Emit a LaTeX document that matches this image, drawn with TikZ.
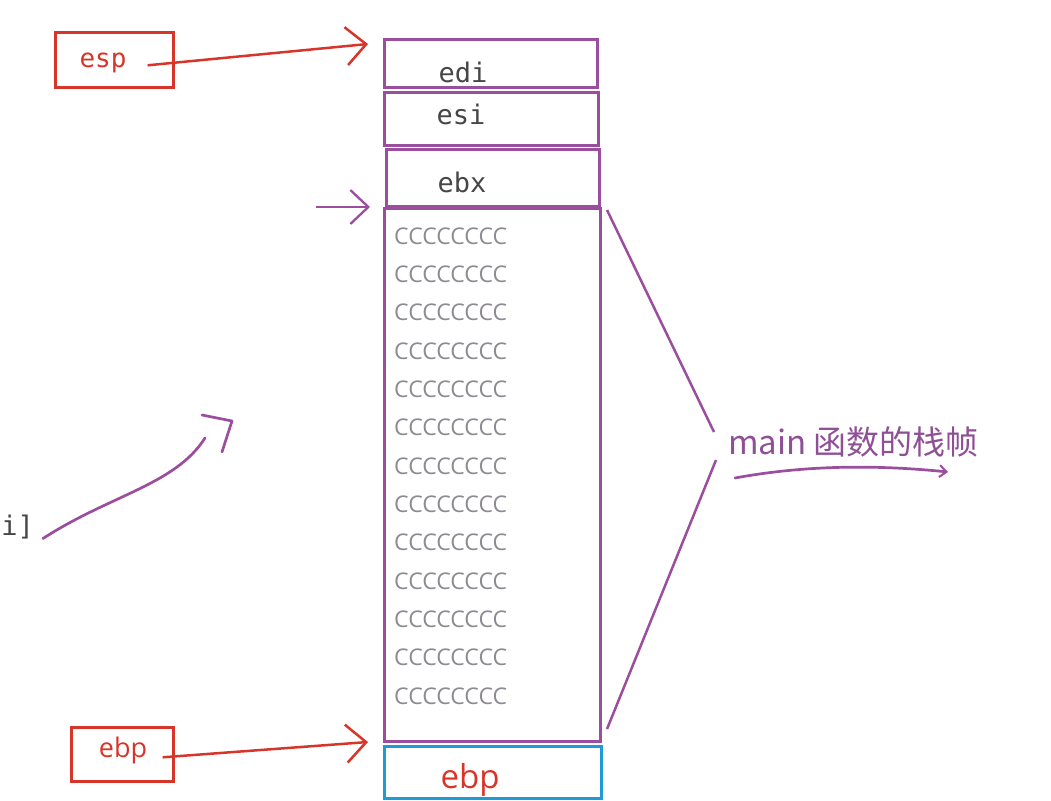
\documentclass[tikz,border=0pt]{standalone}
\usepackage{fontspec}
\setmonofont{DejaVu Sans Mono}
\setsansfont{Open Sans}
\newfontfamily\cjk{Noto Sans CJK SC}
\usetikzlibrary{arrows.meta,positioning}

\definecolor{stackpurple}{HTML}{9A4E9D}
\definecolor{tagpurple}{HTML}{8E4F95}
\definecolor{regred}{HTML}{D8352A}
\definecolor{basecyan}{HTML}{1E9AD6}
\definecolor{fillgray}{HTML}{8E8A92}
\definecolor{namegray}{HTML}{464646}

\tikzset{
  slot/.style={draw=stackpurple, line width=3pt, anchor=north west, inner sep=0pt},
  regbox/.style={draw=regred, line width=2.6pt, anchor=north west, inner sep=0pt},
  regname/.style={text=namegray, anchor=base, inner sep=0pt, font=\ttfamily\fontsize{27}{30}\selectfont},
  fillrow/.style={text=fillgray, anchor=west, inner sep=0pt, font=\sffamily\fontsize{23}{25}\selectfont},
  redarrow/.style={draw=regred, line width=2.5pt, -{Straight Barb[length=20pt,width=38pt,line width=2.5pt]}},
  purplearrow/.style={draw=stackpurple, line width=2.3pt, -{Straight Barb[length=18pt,width=34pt,line width=2.3pt]}},
  brace/.style={draw=stackpurple, line width=2.5pt},
  scribble/.style={draw=stackpurple, line width=2.7pt, line cap=round, line join=round},
}

\begin{document}
\begin{tikzpicture}[x=1pt,y=-1pt]
\useasboundingbox (0,0) rectangle (1051,800);

% stack slots
\node[slot, minimum width=213pt, minimum height=48pt] (edi) at (383,38) {};
\node[slot, minimum width=214pt, minimum height=53pt] (esi) at (383,91) {};
\node[slot, minimum width=213pt, minimum height=57pt] (ebx) at (385,148) {};
\node[slot, minimum width=216pt, minimum height=533pt] (frame) at (383,207) {};
\node[draw=basecyan, line width=3pt, anchor=north west, inner sep=0pt,
      minimum width=217pt, minimum height=52pt] (oldebp) at (383,745) {};

\node[regname] (ediname) at (463,82) {edi};
\node[regname] (esiname) at (461,124) {esi};
\node[regname] (ebxname) at (462,192) {ebx};
\node[text=regred, anchor=base, inner sep=0pt, font=\sffamily\fontsize{33}{36}\selectfont]
  (oldebpname) at (470,788) {ebp};

% filler rows
\foreach \k in {0,...,12}
  \node[fillrow] (fill\k) at (394,236+38.33*\k) {CCCCCCCC};

% registers
\node[regbox, minimum width=118pt, minimum height=55pt] (esp) at (54,31) {};
\node[text=regred, anchor=base, inner sep=0pt, font=\ttfamily\fontsize{26}{30}\selectfont]
  (espname) at (103,67) {esp};
\node[regbox, minimum width=102pt, minimum height=54pt] (ebp) at (70,726) {};
\node[text=regred, anchor=base, inner sep=0pt, font=\sffamily\fontsize{27}{30}\selectfont]
  (ebpname) at (123,757) {ebp};

\draw[redarrow] ([xshift=-27pt,yshift=-5.5pt]esp.east) -- ([xshift=-15pt,yshift=-6pt]edi.north west);
\draw[redarrow] ([xshift=-12pt,yshift=-3pt]ebp.east) -- ([xshift=-15pt,yshift=3pt]oldebp.north west);

% pointer into the frame
\coordinate (ptr) at (316,207);
\draw[purplearrow] (ptr) -- ([xshift=-13pt]frame.north west);

% frame label
\node[text=tagpurple, anchor=west, inner sep=0pt, font=\cjk\fontsize{33}{36}\selectfont]
  (frametag) at (728,442) {main 函数的栈帧};
\draw[brace] ([xshift=5pt,yshift=-3pt]frame.north east) -- ([xshift=-14pt,yshift=10pt]frametag.west);
\draw[brace] ([xshift=-12pt,yshift=-18pt]frametag.west) -- ([xshift=5pt,yshift=14pt]frame.south east);

\coordinate (ulstart) at (735,478);
\coordinate (ulend) at (948,472);
\draw[scribble, -{Straight Barb[length=7pt,width=12pt,line width=2pt]}]
  (ulstart) .. controls (800,466) and (870,464) .. (ulend);

% left mark
\node[text=namegray, anchor=base east, inner sep=0pt, font=\ttfamily\fontsize{27}{30}\selectfont]
  (leftref) at (34,535) {i]};
\coordinate (leftmark) at (205,438);
\draw[scribble] ([xshift=9pt,yshift=-12pt]leftref.east) .. controls (110,495) and (175,485) .. (leftmark);
\draw[scribble] (202,415) -- (232,421) -- (222,452);
\end{tikzpicture}
\end{document}
